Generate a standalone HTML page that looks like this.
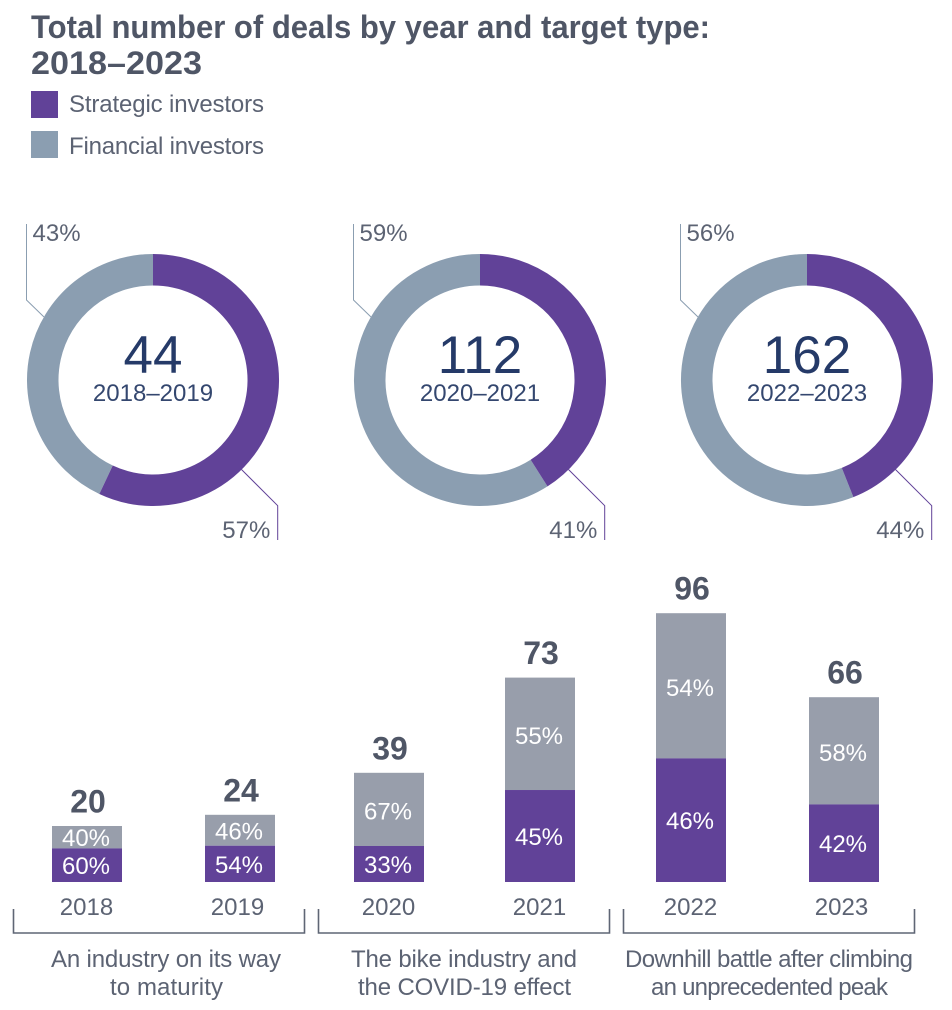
<!DOCTYPE html>
<html lang="en">
<head>
<meta charset="utf-8">
<title>Total number of deals by year and target type: 2018–2023</title>
<style>
html,body{margin:0;padding:0;background:#fff;width:952px;height:1010px;overflow:hidden}
svg{display:block;font-family:"Liberation Sans",sans-serif}
</style>
</head>
<body>
<svg id="chart" width="952" height="1010" viewBox="0 0 952 1010" xmlns="http://www.w3.org/2000/svg">
  <rect width="952" height="1010" fill="#ffffff"/>
  <text x="31" y="38" font-size="32" font-weight="700" fill="#4f5666" textLength="679" lengthAdjust="spacingAndGlyphs">Total number of deals by year and target type:</text>
  <text x="31" y="74" font-size="32" font-weight="700" fill="#4f5666" textLength="171" lengthAdjust="spacingAndGlyphs">2018–2023</text>
  <rect x="31" y="91" width="27" height="27" fill="#614298"/>
  <text x="69" y="112" font-size="24" fill="#5c6373" textLength="195" lengthAdjust="spacing">Strategic investors</text>
  <rect x="31" y="131" width="27" height="27" fill="#8b9eb1"/>
  <text x="69" y="154" font-size="24" fill="#5c6373" textLength="195" lengthAdjust="spacing">Financial investors</text>

  <g id="donuts"></g>
  <g id="bars"></g>

  <g fill="none" stroke="#5f6675" stroke-width="1.6">
    <path d="M13.5 909V933H304.5V909"/>
  </g>
  <g fill="none" stroke="#5f6675" stroke-width="1.6">
    <path d="M318.5 909V933H609.5V909"/>
  </g>
  <g fill="none" stroke="#5f6675" stroke-width="1.6">
    <path d="M623.5 909V933H914.5V909"/>
  </g>

  <g font-size="24" fill="#5c6373">
    <text x="51" y="967" textLength="230" lengthAdjust="spacing">An industry on its way</text>
    <text x="110" y="995" textLength="113" lengthAdjust="spacing">to maturity</text>
    <text x="351" y="967" textLength="226" lengthAdjust="spacing">The bike industry and</text>
    <text x="358" y="995" textLength="213" lengthAdjust="spacing">the COVID-19 effect</text>
    <text x="625" y="967" textLength="288" lengthAdjust="spacing">Downhill battle after climbing</text>
    <text x="651" y="995" textLength="237" lengthAdjust="spacing">an unprecedented peak</text>
  </g>
</svg>
<script>
// Donut data
const donutPeriods = ['2018–2019', '2020–2021', '2022–2023'];
const donutTotals = [44, 112, 162];
const donutStrategic = [57, 41, 44];
const donutFinancial = [43, 59, 56];

// Bar data
const years = ['2018', '2019', '2020', '2021', '2022', '2023'];
const dealTotals = [20, 24, 39, 73, 96, 66];
const strategicShare = [60, 54, 33, 45, 46, 42];
const financialShare = [40, 46, 67, 55, 54, 58];

const NS = 'http://www.w3.org/2000/svg';
const PURPLE = '#614298', SLATE = '#8b9eb1', BARGRAY = '#989eab';

function make(tag, parent, attrs) {
  const el = document.createElementNS(NS, tag);
  for (const k in attrs) el.setAttribute(k, attrs[k]);
  parent.appendChild(el);
  return el;
}

// --- donuts ---
const donutLayer = document.getElementById('donuts');
const donutCx = i => 153 + 327 * i;
const donutCy = 380, ringR = 110.25, ringW = 31.5;
function polar(cx, share) {
  const a = share / 100 * 2 * Math.PI;
  return [cx + ringR * Math.sin(a), donutCy - ringR * Math.cos(a)];
}
function arc(cx, from, to) {
  const p0 = polar(cx, from), p1 = polar(cx, to);
  const large = (to - from) > 50 ? 1 : 0;
  return 'M' + p0[0] + ' ' + p0[1] + 'A' + ringR + ' ' + ringR + ' 0 ' + large + ' 1 ' + p1[0] + ' ' + p1[1];
}
donutPeriods.forEach(function (period, i) {
  const cx = donutCx(i);
  const sum = donutStrategic[i] + donutFinancial[i];
  const split = donutStrategic[i] / sum * 100;

  const g = make('g', donutLayer, {});
  
  

  const finLead = make('path', g, { d: 'M' + (cx - 109) + ' 317L' + (cx - 126.5) + ' 300V224', fill: 'none', stroke: SLATE, 'stroke-width': 1 });
  
  

  const strLead = make('path', g, { d: 'M' + (cx + 88.5) + ' 469.5L' + (cx + 124.7) + ' 505.7V540', fill: 'none', stroke: PURPLE, 'stroke-width': 1 });
  
  

  const finArc = make('path', g, { d: arc(cx, split, 100), fill: 'none', stroke: SLATE, 'stroke-width': ringW });
  
  

  const strArc = make('path', g, { d: arc(cx, 0, split), fill: 'none', stroke: PURPLE, 'stroke-width': ringW });
  
  

  const total = make('text', g, { x: cx, y: 373, 'text-anchor': 'middle', 'font-size': 53, fill: '#253a68' });
  total.textContent = donutTotals[i];
  
  

  const per = make('text', g, { x: cx, y: 401, 'text-anchor': 'middle', 'font-size': 24, fill: '#34476f' });
  per.textContent = period;
  
  

  const finLab = make('text', g, { x: cx - 120.5, y: 241, 'font-size': 24, fill: '#5c6373' });
  finLab.textContent = donutFinancial[i] + '%';
  
  

  const strLab = make('text', g, { x: cx + 117.3, y: 538, 'text-anchor': 'end', 'font-size': 24, fill: '#5c6373' });
  strLab.textContent = donutStrategic[i] + '%';
  
  
});

// --- stacked bars ---
const barLayer = document.getElementById('bars');
const baseY = 882, barW = 70;
const barX = i => 52 + 151 * i + (i === 1 || i === 5 ? 2 : 0);
const yearX = i => 86.5 + 151 * i;
const barH = v => v * 2.8;

years.forEach(function (year, i) {
  const x = barX(i), total = barH(dealTotals[i]);
  const sum = strategicShare[i] + financialShare[i];
  const sH = total * strategicShare[i] / sum;
  const fH = total - sH;
  const top = baseY - total, split = baseY - sH;

  const g = make('g', barLayer, {});
  
  

  const fin = make('rect', g, { x: x, y: top, width: barW, height: fH, fill: BARGRAY });
  
  

  const str = make('rect', g, { x: x, y: split, width: barW, height: sH, fill: PURPLE });
  
  

  const fl = make('text', g, { x: x + barW / 2 - 1, y: top + fH / 2 + (fH > 50 ? 10 : 9), 'text-anchor': 'middle', 'font-size': 24, fill: '#ffffff' });
  fl.textContent = financialShare[i] + '%';
  
  

  const sl = make('text', g, { x: x + barW / 2 - 1, y: split + sH / 2 + 9, 'text-anchor': 'middle', 'font-size': 24, fill: '#ffffff' });
  sl.textContent = strategicShare[i] + '%';
  
  

  const tl = make('text', g, { x: x + barW / 2 + 1, y: top - 13.5, 'text-anchor': 'middle', 'font-size': 32, 'font-weight': 700, fill: '#4f5666' });
  tl.textContent = dealTotals[i];
  
  

  const yl = make('text', g, { x: yearX(i), y: 915, 'text-anchor': 'middle', 'font-size': 24, fill: '#5c6373' });
  yl.textContent = year;
  
  
});
</script>
</body>
</html>
